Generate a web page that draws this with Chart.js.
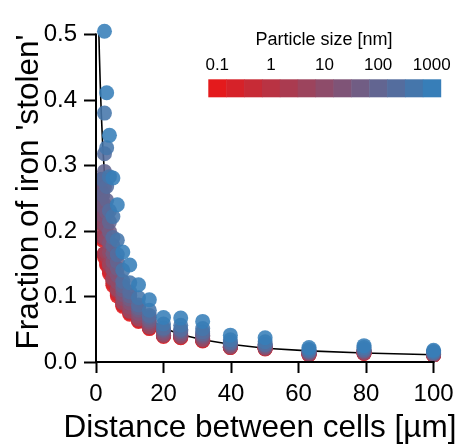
<!DOCTYPE html>
<html><head><meta charset="utf-8">
<script src="https://cdn.jsdelivr.net/npm/chart.js@4/dist/chart.umd.min.js"></script>
<style>html,body{margin:0;padding:0;background:#fff;}</style>
</head><body>
<canvas id="c" width="466" height="445"></canvas>
<script>
// ---- data ----
const DISTANCES = [1, 1.26, 1.58, 2, 2.51, 3.16, 3.98, 5.01, 6.31, 7.94, 10, 12.6, 15.8, 20, 25.1, 31.6, 39.8, 50.1, 63.1, 79.4, 100];
const SIZES = [0.1, 0.215, 0.464, 1, 2.15, 4.64, 10, 21.5, 46.4, 100, 215, 464, 1000];
const SIZE_TICK_LABELS = ['0.1', '1', '10', '100', '1000'];
const SIZE_TICK_VALUES = [0.1, 1, 10, 100, 1000];

const FRAC_0_1   = [0.258, 0.240, 0.212, 0.186, 0.160, 0.148, 0.135, 0.117, 0.101, 0.085, 0.073, 0.062, 0.051, 0.039, 0.037, 0.032, 0.022, 0.020, 0.011, 0.013, 0.0105];
const FRAC_0_215 = [0.261, 0.244, 0.216, 0.189, 0.164, 0.150, 0.138, 0.120, 0.104, 0.087, 0.075, 0.063, 0.052, 0.040, 0.038, 0.033, 0.0225, 0.0205, 0.0115, 0.0135, 0.0108];
const FRAC_0_464 = [0.263, 0.246, 0.218, 0.190, 0.165, 0.155, 0.142, 0.123, 0.106, 0.089, 0.076, 0.064, 0.053, 0.040, 0.038, 0.033, 0.023, 0.021, 0.012, 0.014, 0.011];
const FRAC_1     = [0.264, 0.247, 0.219, 0.191, 0.165, 0.160, 0.146, 0.126, 0.109, 0.090, 0.077, 0.065, 0.053, 0.041, 0.039, 0.034, 0.023, 0.021, 0.012, 0.014, 0.011];
const FRAC_2_15  = [0.265, 0.248, 0.219, 0.191, 0.165, 0.163, 0.148, 0.127, 0.110, 0.091, 0.078, 0.066, 0.054, 0.041, 0.039, 0.034, 0.023, 0.021, 0.012, 0.014, 0.011];
const FRAC_4_64  = [null, 0.256, 0.228, 0.201, 0.189, 0.167, 0.150, 0.128, 0.111, 0.091, 0.078, 0.066, 0.054, 0.041, 0.039, 0.034, 0.023, 0.021, 0.012, 0.014, 0.011];
const FRAC_10    = [null, 0.265, 0.238, 0.212, 0.216, 0.188, 0.167, 0.141, 0.122, 0.097, 0.084, 0.070, 0.058, 0.043, 0.041, 0.036, 0.024, 0.022, 0.013, 0.015, 0.012];
const FRAC_21_5  = [null, 0.277, 0.249, 0.224, 0.240, 0.207, 0.182, 0.153, 0.132, 0.103, 0.090, 0.074, 0.061, 0.045, 0.043, 0.039, 0.026, 0.023, 0.014, 0.016, 0.0125];
const FRAC_46_4  = [null, null, 0.262, 0.238, 0.267, 0.228, 0.199, 0.166, 0.143, 0.110, 0.096, 0.079, 0.064, 0.048, 0.046, 0.041, 0.027, 0.025, 0.015, 0.017, 0.013];
const FRAC_100   = [null, null, 0.279, 0.255, 0.291, 0.247, 0.214, 0.178, 0.153, 0.116, 0.101, 0.083, 0.068, 0.050, 0.048, 0.043, 0.029, 0.026, 0.016, 0.018, 0.014];
const FRAC_215   = [null, null, null, 0.279, 0.318, 0.268, 0.231, 0.190, 0.164, 0.123, 0.107, 0.087, 0.071, 0.052, 0.050, 0.046, 0.030, 0.027, 0.017, 0.019, 0.0145];
const FRAC_464   = [null, null, null, null, 0.380, 0.327, 0.283, 0.222, 0.186, 0.140, 0.121, 0.098, 0.079, 0.058, 0.056, 0.051, 0.034, 0.031, 0.019, 0.022, 0.016];
const FRAC_1000  = [null, null, null, null, 0.505, 0.411, 0.346, 0.281, 0.240, 0.168, 0.148, 0.118, 0.095, 0.068, 0.067, 0.062, 0.041, 0.037, 0.022, 0.025, 0.018];
const SERIES = [FRAC_0_1, FRAC_0_215, FRAC_0_464, FRAC_1, FRAC_2_15, FRAC_4_64, FRAC_10, FRAC_21_5, FRAC_46_4, FRAC_100, FRAC_215, FRAC_464, FRAC_1000];

const FIT_X = [0.86, 1, 1.26, 1.58, 2, 2.51, 3.16, 3.98, 5.01, 6.31, 7.94, 10, 12.6, 15.8, 20, 25.1, 31.6, 39.8, 50.1, 63.1, 79.4, 100];
const FIT_Y = [0.500, 0.470, 0.424, 0.378, 0.330, 0.287, 0.246, 0.208, 0.174, 0.145, 0.119, 0.098, 0.080, 0.065, 0.052, 0.042, 0.034, 0.027, 0.021, 0.017, 0.0137, 0.011];

const X_TICKS = [0, 20, 40, 60, 80, 100];
const Y_TICKS = [0, 0.1, 0.2, 0.3, 0.4, 0.5];

// ---- styling ----
const FONT = '"Liberation Sans", Arial, Helvetica, sans-serif';
const RED = [228, 26, 28], BLUE = [55, 126, 184];
function colorAt(i, a) {
  const t = i / (SIZES.length - 1);
  const c = RED.map((r, k) => Math.round(r + (BLUE[k] - r) * t));
  return `rgba(${c[0]},${c[1]},${c[2]},${a})`;
}

const datasets = SERIES.map((vals, i) => ({
  type: 'scatter',
  label: SIZES[i] + ' nm',
  data: DISTANCES.map((d, j) => ({x: d, y: vals[j]})).filter(p => p.y !== null),
  backgroundColor: colorAt(i, 0.88),
  borderWidth: 0,
  pointRadius: 7.5,
  pointHoverRadius: 7.5,
  order: SERIES.length - 1 - i
}));
datasets.push({
  type: 'line',
  label: 'fit',
  data: FIT_X.map((x, j) => ({x, y: FIT_Y[j]})),
  borderColor: '#000',
  borderWidth: 1.6,
  pointRadius: 0,
  fill: false,
  tension: 0,
  order: 100
});

const decor = {
  id: 'decor',
  afterDraw(chart) {
    const {ctx, scales: {x, y}} = chart;
    ctx.save();
    ctx.strokeStyle = '#000';
    ctx.lineWidth = 2;
    const px0 = x.getPixelForValue(X_TICKS[0]), px1 = x.getPixelForValue(X_TICKS[X_TICKS.length - 1]);
    const py0 = y.getPixelForValue(Y_TICKS[0]), py1 = y.getPixelForValue(Y_TICKS[Y_TICKS.length - 1]);
    ctx.beginPath();
    ctx.moveTo(px0 - 1, py0); ctx.lineTo(px1 + 1, py0);
    ctx.moveTo(px0, py0 + 1); ctx.lineTo(px0, py1 - 1);
    ctx.stroke();
    ctx.fillStyle = '#000';
    ctx.font = '31.5px ' + FONT;
    ctx.textAlign = 'center';
    ctx.textBaseline = 'alphabetic';
    ctx.fillText('Distance between cells [µm]', 260, 437);
    ctx.save();
    ctx.translate(38, 192);
    ctx.rotate(-Math.PI / 2);
    ctx.fillText("Fraction of iron 'stolen'", 0, 0);
    ctx.restore();
    const cbLeft = 208.3, cbRight = 440.7, cbTop = 79.3, cbH = 18;
    const segW = (cbRight - cbLeft) / SIZES.length;
    SIZES.forEach((s, i) => {
      ctx.fillStyle = colorAt(i, 1);
      ctx.fillRect(cbLeft + i * segW, cbTop, segW + 0.5, cbH);
    });
    ctx.fillStyle = '#000';
    ctx.font = '17px ' + FONT;
    SIZE_TICK_VALUES.forEach((v, k) => {
      const i = SIZES.indexOf(v);
      ctx.fillText(SIZE_TICK_LABELS[k], cbLeft + (i + 0.5) * segW, 70);
    });
    ctx.font = '18px ' + FONT;
    ctx.fillText('Particle size [nm]', 324, 45);
    ctx.restore();
  }
};

new Chart(document.getElementById('c'), {
  data: {datasets},
  options: {
    responsive: false,
    animation: false,
    devicePixelRatio: 1,
    layout: {padding: {left: 0, right: 24, top: 10, bottom: 0}},
    plugins: {legend: {display: false}, tooltip: {enabled: false}},
    scales: {
      x: {
        type: 'linear', min: 0, max: 102.5,
        afterBuildTicks: s => { s.ticks = X_TICKS.map(v => ({value: v})); },
        afterFit: s => { s.height = 83; },
        border: {display: false},
        grid: {display: true, drawOnChartArea: false, drawTicks: true, tickLength: 11, tickWidth: 2, tickColor: '#000', color: '#000'},
        ticks: {color: '#000', font: {size: 24, family: FONT}, padding: 7, maxRotation: 0}
      },
      y: {
        type: 'linear', min: 0, max: 0.52,
        afterBuildTicks: s => { s.ticks = Y_TICKS.map(v => ({value: v})); },
        afterFit: s => { s.width = 96; },
        border: {display: false},
        grid: {display: true, drawOnChartArea: false, drawTicks: true, tickLength: 12, tickWidth: 2, tickColor: '#000', color: '#000'},
        ticks: {color: '#000', font: {size: 24, family: FONT}, padding: 7, callback: v => v.toFixed(1)}
      }
    }
  },
  plugins: [decor]
});
</script>
</body></html>
